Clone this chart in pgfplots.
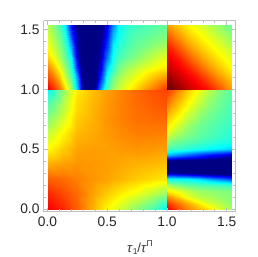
\documentclass[border=0pt]{standalone}
\usepackage{fontspec}
\setmainfont{Liberation Sans}
\usepackage{pgfplots}
\pgfplotsset{compat=1.18}
\definecolor{fr}{RGB}{190,190,190}
\begin{document}
\begin{tikzpicture}[x=1pt,y=1pt]
\path[use as bounding box] (0,0) rectangle (258,257);
\begin{axis}[
  at={(44pt,45pt)},anchor=south west,
  scale only axis,width=192pt,height=191pt,
  view={0}{90},
  xmin=-0.03,xmax=1.578,ymin=-0.025,ymax=1.57,
  xtick={0,0.5,1,1.5},ytick={0,0.5,1,1.5},
  minor tick num=4,
  tick align=inside,
  major tick length=4pt,minor tick length=2.5pt,
  every tick/.style={fr,line width=0.6pt},
  minor tick style={fr,line width=0.5pt},
  axis line style={fr,line width=1pt},
  tick label style={font=\fontsize{13.8}{14}\selectfont,text=black!85},
  /pgf/number format/assume math mode=true,
  /pgf/number format/fixed,/pgf/number format/fixed zerofill,/pgf/number format/precision=1,
  xticklabel style={yshift=-1pt},
  yticklabel style={xshift=-1pt},
  xlabel={\fontsize{13}{13}\selectfont\textit{τ}\raisebox{-2.5pt}{\fontsize{8.5}{9}\selectfont 1}/\textit{τ}\raisebox{5.5pt}{\fontsize{8.5}{9}\selectfont Π}},
  xlabel style={yshift=-7.5pt,text=black!80},
  point meta min=0,point meta max=1,
  colormap={jetx}{rgb255(0cm)=(0,0,130); rgb255(5cm)=(0,0,145); rgb255(12.5cm)=(0,0,255); rgb255(25cm)=(0,130,255); rgb255(36cm)=(0,255,255); rgb255(50cm)=(125,255,130); rgb255(62cm)=(255,255,0); rgb255(87cm)=(255,0,0); rgb255(100cm)=(100,0,0)},
  mesh/ordering=x varies,
]
% lower left
\addplot3[surf,shader=interp,mesh/cols=9,mesh/rows=9] coordinates {
(0,0,.875)(.125,0,.835)(.25,0,.78)(.375,0,.70)(.5,0,.625)(.625,0,.57)(.75,0,.51)(.875,0,.45)(1,0,.36)
(0,.125,.835)(.125,.125,.80)(.25,.125,.765)(.375,.125,.715)(.5,.125,.67)(.625,.125,.63)(.75,.125,.60)(.875,.125,.56)(1,.125,.52)
(0,.25,.78)(.125,.25,.765)(.25,.25,.745)(.375,.25,.725)(.5,.25,.71)(.625,.25,.69)(.75,.25,.67)(.875,.25,.655)(1,.25,.64)
(0,.375,.70)(.125,.375,.715)(.25,.375,.725)(.375,.375,.72)(.5,.375,.715)(.625,.375,.705)(.75,.375,.695)(.875,.375,.69)(1,.375,.68)
(0,.5,.625)(.125,.5,.67)(.25,.5,.71)(.375,.5,.715)(.5,.5,.715)(.625,.5,.72)(.75,.5,.725)(.875,.5,.72)(1,.5,.715)
(0,.625,.57)(.125,.625,.63)(.25,.625,.69)(.375,.625,.705)(.5,.625,.72)(.625,.625,.735)(.75,.625,.745)(.875,.625,.745)(1,.625,.745)
(0,.75,.51)(.125,.75,.585)(.25,.75,.67)(.375,.75,.695)(.5,.75,.725)(.625,.75,.745)(.75,.75,.76)(.875,.75,.765)(1,.75,.77)
(0,.875,.45)(.125,.875,.55)(.25,.875,.655)(.375,.875,.69)(.5,.875,.72)(.625,.875,.745)(.75,.875,.765)(.875,.875,.78)(1,.875,.79)
(0,1,.36)(.125,1,.52)(.25,1,.64)(.375,1,.68)(.5,1,.715)(.625,1,.745)(.75,1,.77)(.875,1,.79)(1,1,.805)
};
% upper left
\addplot3[surf,shader=interp,mesh/cols=17,mesh/rows=7] coordinates {
(0,1,.88)(.05,1,.82)(.1,1,.75)(.15,1,.65)(.2,1,.54)(.25,1,.32)(.3,1,.05)(.35,1,-.2)(.4,1,.06)(.45,1,.27)(.5,1,.45)(.55,1,.53)(.6,1,.57)(.7,1,.635)(.8,1,.70)(.9,1,.76)(1,1,.82)
(0,1.09,.80)(.05,1.09,.75)(.1,1.09,.67)(.15,1.09,.57)(.2,1.09,.47)(.25,1.09,.27)(.3,1.09,0)(.35,1.09,-.2)(.4,1.09,0)(.45,1.09,.18)(.5,1.09,.39)(.55,1.09,.49)(.6,1.09,.54)(.7,1.09,.59)(.8,1.09,.64)(.9,1.09,.69)(1,1.09,.73)
(0,1.18,.74)(.05,1.18,.68)(.1,1.18,.60)(.15,1.18,.52)(.2,1.18,.42)(.25,1.18,.17)(.3,1.18,0)(.35,1.18,-.2)(.4,1.18,-.05)(.45,1.18,.115)(.5,1.18,.32)(.55,1.18,.42)(.6,1.18,.50)(.7,1.18,.55)(.8,1.18,.59)(.9,1.18,.62)(1,1.18,.645)
(0,1.27,.66)(.05,1.27,.60)(.1,1.27,.54)(.15,1.27,.47)(.2,1.27,.36)(.25,1.27,.09)(.3,1.27,-.1)(.35,1.27,-.2)(.4,1.27,-.1)(.45,1.27,.08)(.5,1.27,.24)(.55,1.27,.38)(.6,1.27,.44)(.7,1.27,.49)(.8,1.27,.53)(.9,1.27,.57)(1,1.27,.60)
(0,1.36,.61)(.05,1.36,.56)(.1,1.36,.51)(.15,1.36,.43)(.2,1.36,.28)(.25,1.36,.06)(.3,1.36,-.1)(.35,1.36,-.2)(.4,1.36,-.1)(.45,1.36,.06)(.5,1.36,.18)(.55,1.36,.35)(.6,1.36,.41)(.7,1.36,.46)(.8,1.36,.49)(.9,1.36,.52)(1,1.36,.54)
(0,1.45,.58)(.05,1.45,.53)(.1,1.45,.47)(.15,1.45,.39)(.2,1.45,.19)(.25,1.45,.06)(.3,1.45,-.1)(.35,1.45,-.2)(.4,1.45,-.1)(.45,1.45,.04)(.5,1.45,.14)(.55,1.45,.30)(.6,1.45,.38)(.7,1.45,.44)(.8,1.45,.46)(.9,1.45,.48)(1,1.45,.50)
(0,1.54,.55)(.05,1.54,.51)(.1,1.54,.43)(.15,1.54,.35)(.2,1.54,.125)(.25,1.54,.03)(.3,1.54,-.1)(.35,1.54,-.2)(.4,1.54,-.1)(.45,1.54,.03)(.5,1.54,.11)(.55,1.54,.26)(.6,1.54,.37)(.7,1.54,.42)(.8,1.54,.44)(.9,1.54,.46)(1,1.54,.47)
};
% lower right
\addplot3[surf,shader=interp,mesh/ordering=y varies,mesh/cols=7,mesh/rows=17] coordinates {
(1,0,.88)(1,.05,.82)(1,.1,.74)(1,.15,.64)(1,.2,.54)(1,.25,.38)(1,.3,.07)(1,.35,-.2)(1,.4,.03)(1,.45,.30)(1,.5,.44)(1,.55,.50)(1,.6,.56)(1,.7,.64)(1,.8,.70)(1,.9,.76)(1,1,.82)
(1.09,0,.80)(1.09,.05,.75)(1.09,.1,.67)(1.09,.15,.60)(1.09,.2,.50)(1.09,.25,.37)(1.09,.3,.05)(1.09,.35,-.2)(1.09,.4,0)(1.09,.45,.26)(1.09,.5,.42)(1.09,.55,.47)(1.09,.6,.52)(1.09,.7,.58)(1.09,.8,.64)(1.09,.9,.69)(1.09,1,.74)
(1.18,0,.74)(1.18,.05,.70)(1.18,.1,.60)(1.18,.15,.56)(1.18,.2,.47)(1.18,.25,.36)(1.18,.3,.03)(1.18,.35,-.2)(1.18,.4,-.03)(1.18,.45,.22)(1.18,.5,.40)(1.18,.55,.45)(1.18,.6,.49)(1.18,.7,.53)(1.18,.8,.58)(1.18,.9,.63)(1.18,1,.67)
(1.27,0,.69)(1.27,.05,.63)(1.27,.1,.56)(1.27,.15,.53)(1.27,.2,.45)(1.27,.25,.33)(1.27,.3,.01)(1.27,.35,-.2)(1.27,.4,-.05)(1.27,.45,.18)(1.27,.5,.38)(1.27,.55,.43)(1.27,.6,.46)(1.27,.7,.49)(1.27,.8,.53)(1.27,.9,.57)(1.27,1,.61)
(1.36,0,.64)(1.36,.05,.58)(1.36,.1,.54)(1.36,.15,.52)(1.36,.2,.44)(1.36,.25,.28)(1.36,.3,0)(1.36,.35,-.2)(1.36,.4,-.07)(1.36,.45,.14)(1.36,.5,.36)(1.36,.55,.41)(1.36,.6,.44)(1.36,.7,.46)(1.36,.8,.49)(1.36,.9,.52)(1.36,1,.55)
(1.45,0,.58)(1.45,.05,.55)(1.45,.1,.52)(1.45,.15,.51)(1.45,.2,.43)(1.45,.25,.24)(1.45,.3,0)(1.45,.35,-.2)(1.45,.4,-.09)(1.45,.45,.11)(1.45,.5,.34)(1.45,.55,.39)(1.45,.6,.42)(1.45,.7,.44)(1.45,.8,.46)(1.45,.9,.48)(1.45,1,.50)
(1.54,0,.53)(1.54,.05,.52)(1.54,.1,.51)(1.54,.15,.50)(1.54,.2,.42)(1.54,.25,.20)(1.54,.3,-.02)(1.54,.35,-.2)(1.54,.4,-.1)(1.54,.45,.08)(1.54,.5,.32)(1.54,.55,.38)(1.54,.6,.40)(1.54,.7,.42)(1.54,.8,.44)(1.54,.9,.45)(1.54,1,.46)
};
% upper right
\addplot3[surf,shader=interp,mesh/cols=7,mesh/rows=7] coordinates {
(1,1,1)(1.09,1,.96)(1.18,1,.92)(1.27,1,.885)(1.36,1,.84)(1.45,1,.78)(1.54,1,.72)
(1,1.09,.96)(1.09,1.09,.92)(1.18,1.09,.885)(1.27,1.09,.84)(1.36,1.09,.78)(1.45,1.09,.72)(1.54,1.09,.67)
(1,1.18,.92)(1.09,1.18,.885)(1.18,1.18,.84)(1.27,1.18,.78)(1.36,1.18,.72)(1.45,1.18,.67)(1.54,1.18,.625)
(1,1.27,.885)(1.09,1.27,.84)(1.18,1.27,.78)(1.27,1.27,.72)(1.36,1.27,.67)(1.45,1.27,.625)(1.54,1.27,.59)
(1,1.36,.84)(1.09,1.36,.78)(1.18,1.36,.72)(1.27,1.36,.67)(1.36,1.36,.625)(1.45,1.36,.59)(1.54,1.36,.55)
(1,1.45,.78)(1.09,1.45,.72)(1.18,1.45,.67)(1.27,1.45,.625)(1.36,1.45,.59)(1.45,1.45,.55)(1.54,1.45,.515)
(1,1.54,.72)(1.09,1.54,.67)(1.18,1.54,.625)(1.27,1.54,.59)(1.36,1.54,.55)(1.45,1.54,.515)(1.54,1.54,.48)
};
\end{axis}
\end{tikzpicture}
\end{document}
